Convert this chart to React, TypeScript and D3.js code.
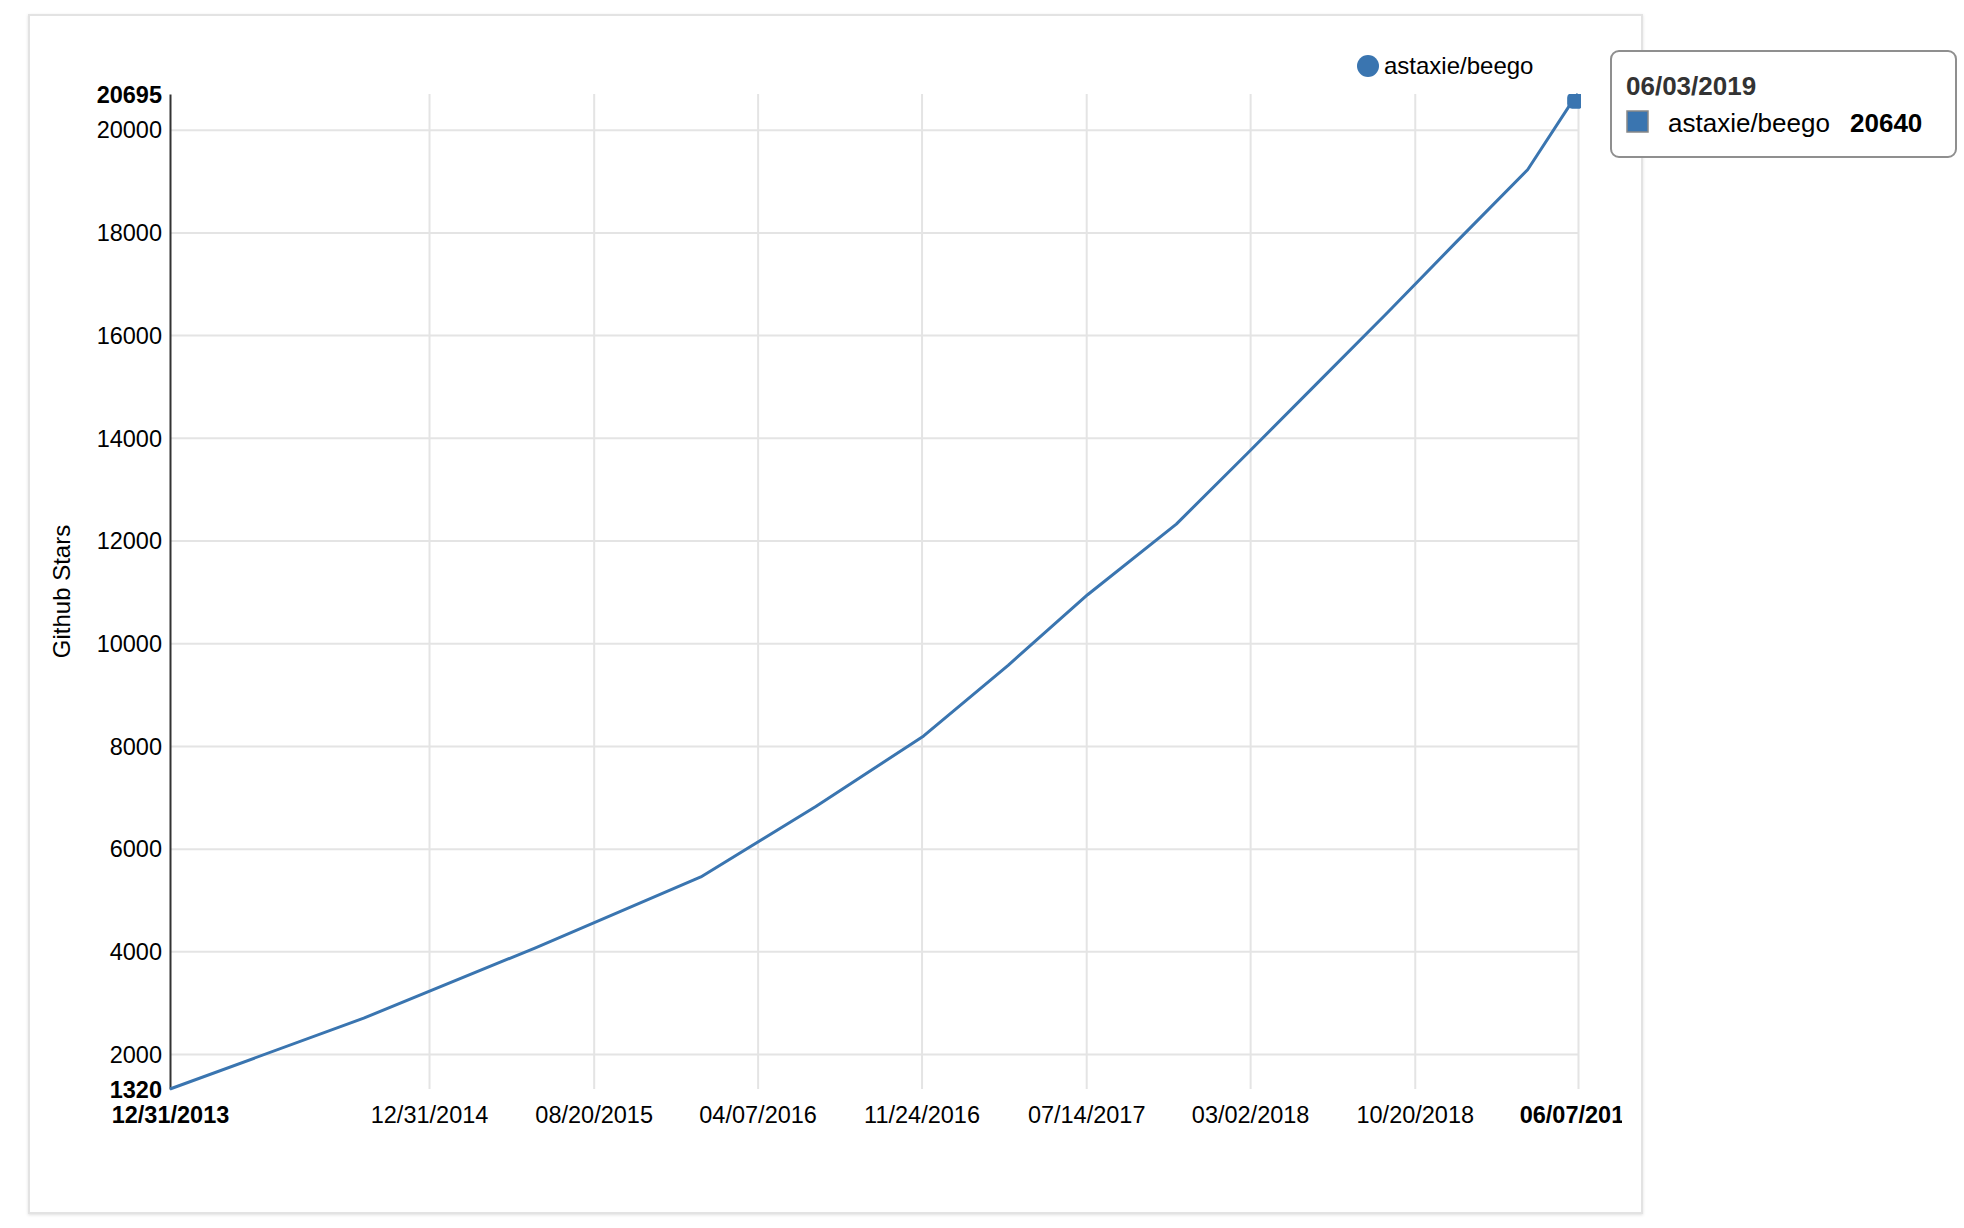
import React, { useEffect, useRef } from 'react'
import * as d3 from 'd3'

// star history samples for astaxie/beego
const sampleDates = [
  '12/31/2013', '09/30/2014', '05/30/2015', '01/18/2016', '06/28/2016',
  '11/27/2016', '03/26/2017', '07/16/2017', '11/18/2017', '02/26/2018',
  '06/05/2018', '09/12/2018', '12/18/2018', '03/28/2019', '06/03/2019',
  '06/07/2019',
]
const sampleStars = [
  1320, 2700, 4070, 5450, 6820, 8195, 9570, 10945, 12320, 13695, 15070,
  16445, 17820, 19220, 20640, 20695,
]

const yTicks = [2000, 4000, 6000, 8000, 10000, 12000, 14000, 16000, 18000, 20000]
const xTicks = [
  '12/31/2014', '08/20/2015', '04/07/2016', '11/24/2016', '07/14/2017',
  '03/02/2018', '10/20/2018',
]
const xStart = '12/31/2013'
const xEnd = '06/07/2019'
const yMin = 1320
const yMax = 20695

const repo = 'astaxie/beego'
const hoverDate = '06/03/2019'
const hoverStars = 20640

const W = 1964
const H = 1228
const FONT = '"Liberation Sans", Arial, Helvetica, sans-serif'
const BLUE = '#3a75b0'

const App: React.FC = () => {
  const svgRef = useRef<SVGSVGElement | null>(null)

  useEffect(() => {
    if (!svgRef.current) return
    const svg = d3.select(svgRef.current)
    svg.selectAll('*').remove()

    const parse = d3.timeParse('%m/%d/%Y')
    const fmt = d3.timeFormat('%m/%d/%Y')
    const margin = { left: 170, right: 1578, top: 94, bottom: 1089 }

    const x = d3
      .scaleTime()
      .domain([parse(xStart)!, parse(xEnd)!])
      .range([margin.left, margin.right])
    const y = d3.scaleLinear().domain([yMin, yMax]).range([margin.bottom, margin.top])

    const defs = svg.append('defs')
    defs
      .append('filter')
      .attr('id', 'shadow')
      .attr('x', '-5%')
      .attr('y', '-5%')
      .attr('width', '110%')
      .attr('height', '110%')
      .append('feDropShadow')
      .attr('dx', 0)
      .attr('dy', 1)
      .attr('stdDeviation', 1.5)
      .attr('flood-color', '#000')
      .attr('flood-opacity', 0.12)
    // the card cuts off the last date label
    defs
      .append('clipPath')
      .attr('id', 'labelClip')
      .append('rect')
      .attr('x', 0)
      .attr('y', -H)
      .attr('width', 1622)
      .attr('height', 2 * H)
    defs
      .append('clipPath')
      .attr('id', 'plotClip')
      .append('rect')
      .attr('x', margin.left)
      .attr('y', margin.top)
      .attr('width', margin.right - margin.left + 3)
      .attr('height', margin.bottom - margin.top)

    // card frame
    svg
      .append('rect')
      .attr('x', 29)
      .attr('y', 15)
      .attr('width', 1613)
      .attr('height', 1198)
      .attr('fill', '#fff')
      .attr('stroke', '#e3e3e3')
      .attr('stroke-width', 2)
      .attr('filter', 'url(#shadow)')

    // x axis with vertical grid
    const xVals = [parse(xStart)!, ...xTicks.map(d => parse(d)!), parse(xEnd)!]
    const lastIdx = xVals.length - 1
    svg
      .append('g')
      .attr('clip-path', 'url(#labelClip)')
      .attr('transform', `translate(0,${margin.bottom})`)
      .call(
        d3
          .axisBottom(x)
          .tickValues(xVals)
          .tickFormat(d => fmt(d as Date))
          .tickSize(-(margin.bottom - margin.top))
          .tickSizeOuter(0)
          .tickPadding(17),
      )
      .call(g => g.select('.domain').remove())
      .call(g =>
        g
          .selectAll('.tick line')
          .attr('stroke', '#e4e4e4')
          .attr('stroke-width', 2)
          .filter((d, i) => i === 0)
          .remove(),
      )
      .call(g =>
        g
          .selectAll('.tick text')
          .attr('fill', '#000')
          .style('font', `23.5px ${FONT}`)
          .filter((d, i) => i === 0 || i === lastIdx)
          .style('font-weight', 'bold'),
      )

    // y axis with horizontal grid
    const yVals = [yMin, ...yTicks, yMax]
    const yLast = yVals.length - 1
    svg
      .append('g')
      .attr('transform', `translate(${margin.left},0)`)
      .call(
        d3
          .axisLeft(y)
          .tickValues(yVals)
          .tickFormat(d => String(d))
          .tickSize(-(margin.right - margin.left))
          .tickSizeOuter(0)
          .tickPadding(8),
      )
      .call(g =>
        g
          .selectAll('.tick line')
          .attr('stroke', '#e4e4e4')
          .attr('stroke-width', 2)
          .filter((d, i) => i === 0 || i === yLast)
          .remove(),
      )
      .call(g =>
        g
          .selectAll('.tick text')
          .attr('fill', '#000')
          .attr('dy', '0.35em')
          .style('font', `23.5px ${FONT}`)
          .filter((d, i) => i === 0 || i === yLast)
          .style('font-weight', 'bold'),
      )
      .call(g => g.select('.domain').raise().attr('stroke', '#333').attr('stroke-width', 2))

    // y title
    svg
      .append('text')
      .attr('transform', `translate(62,${(margin.top + margin.bottom) / 2}) rotate(-90)`)
      .attr('text-anchor', 'middle')
      .attr('dy', '0.35em')
      .attr('fill', '#000')
      .style('font', `24px ${FONT}`)
      .text('Github Stars')

    // line
    const pts = sampleDates.map((d, i) => ({ date: parse(d)!, stars: sampleStars[i] }))
    const line = d3
      .line<{ date: Date; stars: number }>()
      .x(d => x(d.date))
      .y(d => y(d.stars))
    svg
      .append('path')
      .datum(pts)
      .attr('d', line)
      .attr('fill', 'none')
      .attr('stroke', BLUE)
      .attr('stroke-width', 3)
      .attr('stroke-linejoin', 'round')

    // hovered point marker
    svg
      .append('rect')
      .attr('clip-path', 'url(#plotClip)')
      .attr('x', x(parse(hoverDate)!) - 8)
      .attr('y', y(hoverStars) - 4)
      .attr('width', 16)
      .attr('height', 16)
      .attr('rx', 5)
      .attr('fill', BLUE)

    // legend
    const legend = svg.append('g').attr('transform', 'translate(1368,66)')
    legend.append('circle').attr('r', 11).attr('fill', BLUE)
    legend
      .append('text')
      .attr('x', 16)
      .attr('dy', '0.35em')
      .attr('fill', '#000')
      .style('font', `24px ${FONT}`)
      .text(repo)

    // tooltip
    const tip = svg.append('g').attr('transform', 'translate(1611,51)')
    tip
      .append('rect')
      .attr('width', 345)
      .attr('height', 106)
      .attr('rx', 8)
      .attr('fill', '#fff')
      .attr('stroke', '#8f8f8f')
      .attr('stroke-width', 2)
    tip
      .append('text')
      .attr('x', 15)
      .attr('y', 44)
      .attr('fill', '#333')
      .style('font', `bold 26px ${FONT}`)
      .text(hoverDate)
    tip
      .append('rect')
      .attr('x', 16)
      .attr('y', 60)
      .attr('width', 21)
      .attr('height', 21)
      .attr('fill', BLUE)
      .attr('stroke', '#888')
      .attr('stroke-width', 1.5)
    tip
      .append('text')
      .attr('x', 57)
      .attr('y', 81)
      .attr('fill', '#000')
      .style('font', `26px ${FONT}`)
      .text(repo)
    tip
      .append('text')
      .attr('x', 239)
      .attr('y', 81)
      .attr('fill', '#000')
      .style('font', `bold 26px ${FONT}`)
      .text(String(hoverStars))
  }, [])

  return (
    <div style={{ position: 'fixed', left: 0, top: 0, width: W, height: H, background: '#fff' }}>
      <svg ref={svgRef} width={W} height={H} style={{ display: 'block' }}></svg>
    </div>
  )
}

export default App
